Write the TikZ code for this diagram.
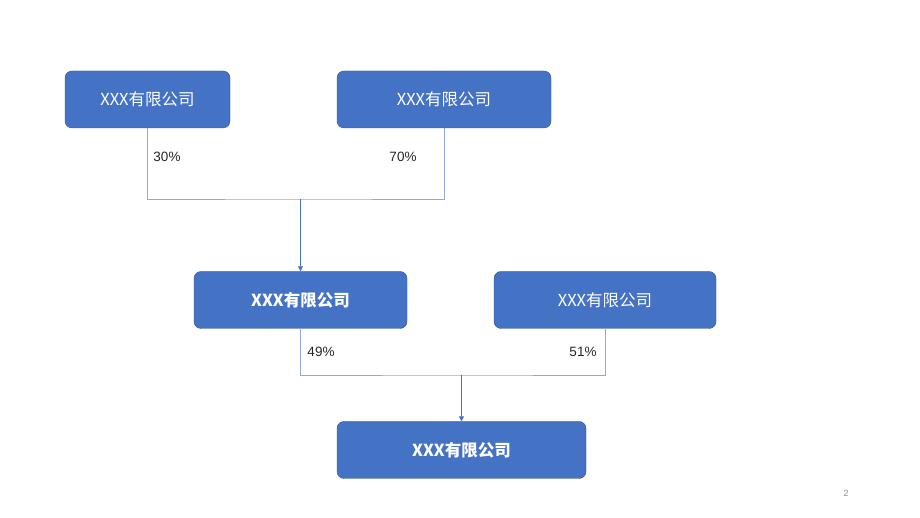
\documentclass[tikz,border=0pt]{standalone}
\usepackage{fontspec}
\setmainfont{Liberation Sans}
\newfontfamily\cjk{Noto Sans CJK SC}
\usetikzlibrary{arrows.meta}
\definecolor{boxblue}{HTML}{4472C4}
\definecolor{boxline}{HTML}{2F528F}
\definecolor{linkblue}{HTML}{8FAADC}
\definecolor{arrowblue}{HTML}{4472C4}
\tikzset{
	company/.style={draw=boxline, fill=boxblue, rounded corners=7pt, text=white,
		minimum height=57pt, inner sep=0pt, font=\cjk\fontsize{16.5}{19}\selectfont},
	mainco/.style={company, font=\cjk\bfseries\fontsize{16.5}{19}\selectfont},
	share/.style={font=\fontsize{13.5}{16}\selectfont, text=black!85},
	link/.style={draw=linkblue, line width=0.8pt},
	feed/.style={draw=arrowblue, line width=0.8pt, -{Triangle[length=5pt,width=5pt]}}
}
\begin{document}
\begin{tikzpicture}[x=1pt, y=1pt]
	\useasboundingbox (0,0) rectangle (920,518);
	\node (top1) [company, minimum width=165pt] at (147.5,418.5) {XXX有限公司};
	\node (top2) [company, minimum width=214pt] at (444,418.5) {XXX有限公司};
	\node (mid1) [mainco, minimum width=213pt] at (300.5,218) {XXX有限公司};
	\node (mid2) [company, minimum width=222pt] at (605,218) {XXX有限公司};
	\node (base) [mainco, minimum width=249pt] at (461.5,68) {XXX有限公司};
	
	\coordinate (join1) at (300.5,319);
	\coordinate (join2) at (461.5,143);
	
	\draw[link] (top1.south) |- (join1) -| (top2.south);
	\draw[feed] (join1) -- (mid1.north);
	\draw[link] (mid1.south) |- (join2) -| (mid2.south);
	\draw[feed] (join2) -- (base.north);
	
	\node (p30) [share] at (167,361) {30\%};
	\node (p70) [share] at (403,361) {70\%};
	\node (p49) [share] at (321,166) {49\%};
	\node (p51) [share] at (583,166) {51\%};
	
	\node (page) [font=\fontsize{9}{11}\selectfont, text=black!45] at (846,25) {2};
\end{tikzpicture}
\end{document}
